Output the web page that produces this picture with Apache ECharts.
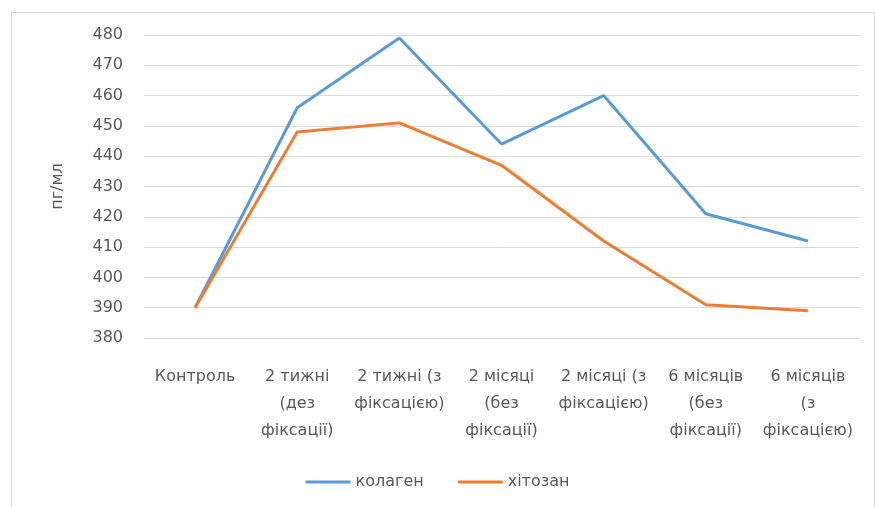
<!DOCTYPE html>
<html>
<head>
<meta charset="utf-8">
<script src="https://cdn.jsdelivr.net/npm/echarts@6/dist/echarts.min.js"></script>
<style>
  html, body { margin: 0; padding: 0; background: #ffffff; }
  #chart { width: 875px; height: 507px; }
</style>
</head>
<body>
<div id="chart"></div>
<script>
// Category labels (time point / fixation)
const categories = [
  'Контроль',
  '2 тижні\n(дез\nфіксації)',
  '2 тижні (з\nфіксацією)',
  '2 місяці\n(без\nфіксації)',
  '2 місяці (з\nфіксацією)',
  '6 місяців\n(без\nфіксації)',
  '6 місяців\n(з\nфіксацією)'
];

// Concentration, pg/ml
const collagen = [390, 456, 479, 444, 460, 421, 412];
const chitosan = [390, 448, 451, 437, 412, 391, 389];

const seriesNames = ['колаген', 'хітозан'];
const axisName = 'пг/мл';

const font = '"DejaVu Sans", "Liberation Sans", sans-serif';
const textColor = '#595959';
const fontSize = 16;

const chart = echarts.init(document.getElementById('chart'), null, { renderer: 'canvas' });

chart.setOption({
  animation: false,
  backgroundColor: '#ffffff',
  textStyle: { fontFamily: font, color: textColor },
  graphic: [{
    type: 'rect',
    left: 9, top: 10,
    shape: { width: 863, height: 520 },
    style: { fill: 'none', stroke: '#d9d9d9', lineWidth: 1 },
    silent: true
  }],
  grid: { left: 144, right: 16, top: 35, bottom: 169, containLabel: false },
  legend: {
    data: seriesNames,
    top: 469,
    left: 'center',
    itemWidth: 45,
    itemHeight: 3,
    itemGap: 34,
    icon: 'rect',
    textStyle: { fontFamily: font, fontSize: fontSize, color: textColor }
  },
  xAxis: {
    type: 'category',
    data: categories,
    boundaryGap: true,
    axisLine: { show: false },
    axisTick: { show: false },
    axisLabel: {
      interval: 0,
      margin: 25,
      fontFamily: font,
      fontSize: fontSize,
      lineHeight: 27,
      color: textColor,
      verticalAlign: 'top',
      align: 'center'
    }
  },
  yAxis: {
    type: 'value',
    min: 380,
    max: 480,
    interval: 10,
    name: axisName,
    nameLocation: 'middle',
    nameGap: 78,
    nameRotate: 90,
    nameTextStyle: { fontFamily: font, fontSize: fontSize, color: textColor },
    axisLine: { show: false },
    axisTick: { show: false },
    axisLabel: { fontFamily: font, fontSize: fontSize, color: textColor, margin: 21 },
    splitLine: { lineStyle: { color: '#d9d9d9', width: 1 } }
  },
  series: [
    {
      name: seriesNames[0],
      type: 'line',
      data: collagen,
      symbol: 'none',
      lineStyle: { color: '#5b9bd5', width: 3 },
      itemStyle: { color: '#5b9bd5' }
    },
    {
      name: seriesNames[1],
      type: 'line',
      data: chitosan,
      symbol: 'none',
      lineStyle: { color: '#ed7d31', width: 3 },
      itemStyle: { color: '#ed7d31' }
    }
  ]
});
</script>
</body>
</html>
